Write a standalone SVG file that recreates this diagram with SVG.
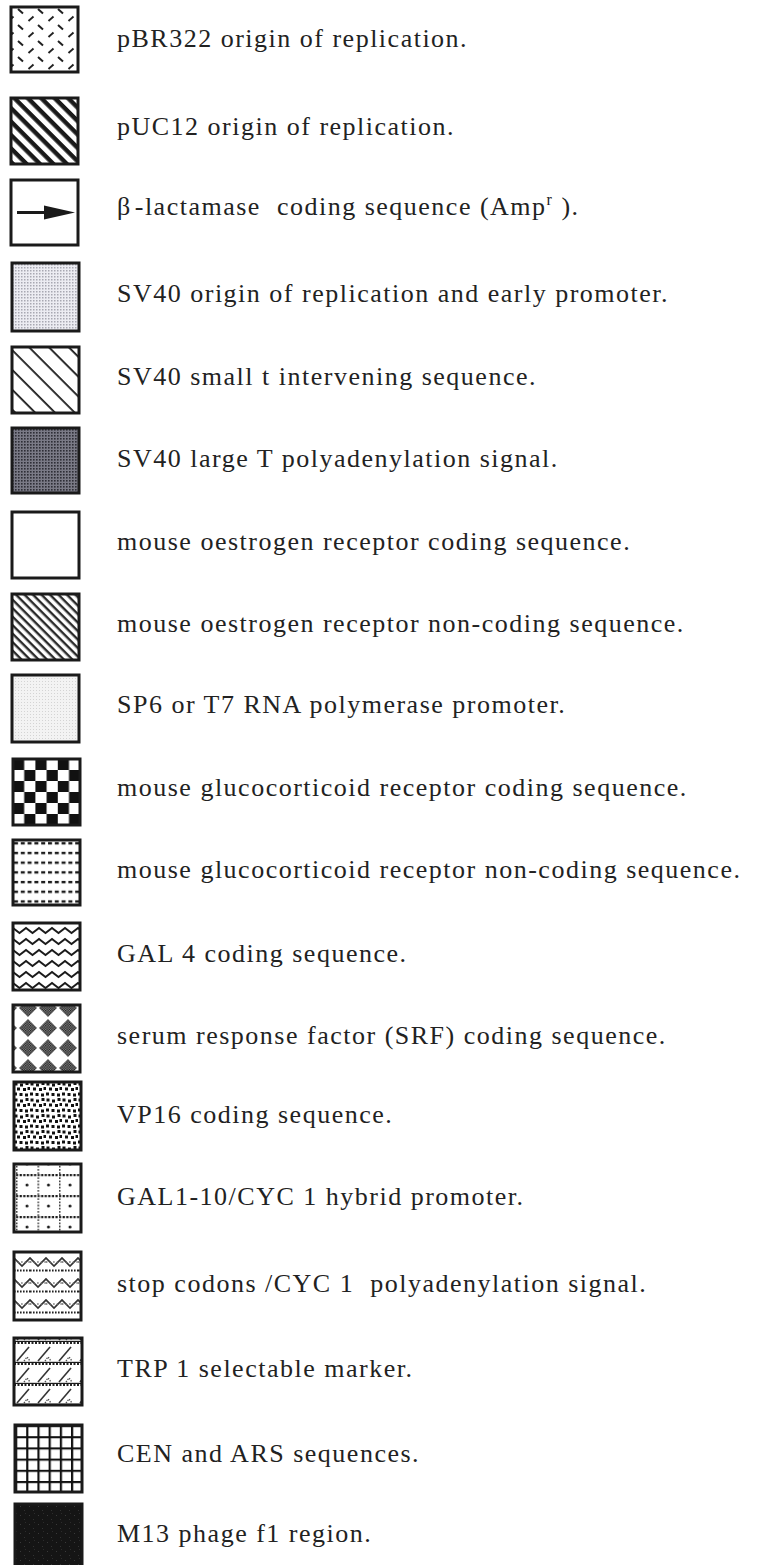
<svg xmlns="http://www.w3.org/2000/svg" width="764" height="1565" viewBox="0 0 764 1565">
  <style>
    .box { stroke: #1a1a1a; stroke-width: 3; }
    .lbl { font-family: "Liberation Serif", "Times New Roman", serif; font-size: 26px; letter-spacing: 1.5px; fill: #222; white-space: pre; }
  </style>
  <defs>
    <!-- alternating short dashes -->
    <pattern id="pDash" patternUnits="userSpaceOnUse" x="11" y="7" width="20" height="16">
      <rect width="20" height="16" fill="#fff"/>
      <path d="M7 2 L12 6.5 M-2.5 14 L2.5 9.5 M17.5 14 L22.5 9.5" stroke="#222" stroke-width="2" fill="none"/>
    </pattern>
    <!-- heavy diagonal stripes -->
    <pattern id="pHeavy" patternUnits="userSpaceOnUse" width="9.5" height="9.5" patternTransform="rotate(45)">
      <rect width="9.5" height="9.5" fill="#fff"/>
      <rect width="9.5" height="4.4" fill="#1a1a1a"/>
    </pattern>
    <!-- thin wide diagonal lines -->
    <pattern id="pThin" patternUnits="userSpaceOnUse" width="14" height="14" patternTransform="rotate(45)">
      <rect width="14" height="14" fill="#fff"/>
      <rect width="14" height="1.8" fill="#1a1a1a"/>
    </pattern>
    <!-- fine diagonal lines -->
    <pattern id="pFine" patternUnits="userSpaceOnUse" width="6" height="6" patternTransform="rotate(45)">
      <rect width="6" height="6" fill="#fff"/>
      <rect width="6" height="2.4" fill="#2a2a2a"/>
    </pattern>
    <!-- light dot screen -->
    <pattern id="pLight" patternUnits="userSpaceOnUse" width="3" height="3">
      <rect width="3" height="3" fill="#ececf2"/>
      <rect width="1.5" height="1.5" fill="#a8a8b2"/>
    </pattern>
    <!-- dark dot screen -->
    <pattern id="pDark" patternUnits="userSpaceOnUse" width="3" height="3">
      <rect width="3" height="3" fill="#7a7a86"/>
      <rect width="1.6" height="1.6" fill="#2e2e36"/>
    </pattern>
    <!-- very light stipple -->
    <pattern id="pPale" patternUnits="userSpaceOnUse" width="3" height="3">
      <rect width="3" height="3" fill="#f3f3f3"/>
      <rect width="1" height="1" fill="#d4d4d4"/>
    </pattern>
    <!-- checkerboard -->
    <pattern id="pCheck" patternUnits="userSpaceOnUse" x="13" y="759" width="22.4" height="22">
      <rect width="22.4" height="22" fill="#fff"/>
      <rect width="11.2" height="11" fill="#111"/>
      <rect x="11.2" y="11" width="11.2" height="11" fill="#111"/>
    </pattern>
    <!-- dashed rows -->
    <pattern id="pDashRows" patternUnits="userSpaceOnUse" x="13" y="848" width="6.8" height="9.7">
      <rect width="6.8" height="9.7" fill="#fff"/>
      <rect x="1" y="3.8" width="4" height="2.4" fill="#1a1a1a"/>
    </pattern>
    <!-- zigzag rows -->
    <pattern id="pZig" patternUnits="userSpaceOnUse" x="13" y="925" width="13" height="11">
      <rect width="13" height="11" fill="#fff"/>
      <path d="M-6.5 8 L0 3 L6.5 8 L13 3 L19.5 8" stroke="#1a1a1a" stroke-width="1.8" fill="none"/>
    </pattern>
    <!-- checkered fill for diamonds -->
    <pattern id="pDiamFill" patternUnits="userSpaceOnUse" width="2.4" height="2.4">
      <rect width="2.4" height="2.4" fill="#8a8a8a"/>
      <rect width="1.2" height="1.2" fill="#1a1a1a"/>
      <rect x="1.2" y="1.2" width="1.2" height="1.2" fill="#1a1a1a"/>
    </pattern>
    <!-- diamonds -->
    <pattern id="pDiam" patternUnits="userSpaceOnUse" x="18" y="998" width="20" height="20">
      <rect width="20" height="20" fill="#fff"/>
      <path d="M10 1 L19 10 L10 19 L1 10 Z" fill="url(#pDiamFill)"/>
    </pattern>
    <!-- scattered squares -->
    <pattern id="pSpeck" patternUnits="userSpaceOnUse" x="14" y="1082" width="16" height="16">
      <rect width="16" height="16" fill="#fff"/>
      <g fill="#111">
        <rect x="0.5" y="0.5" width="3" height="3"/>
        <rect x="6" y="1.5" width="3" height="3"/>
        <rect x="11.5" y="0" width="3" height="3"/>
        <rect x="3" y="5.5" width="3" height="3"/>
        <rect x="9" y="6" width="3" height="3"/>
        <rect x="13.5" y="5" width="2.5" height="3"/>
        <rect x="0" y="10.5" width="3" height="3"/>
        <rect x="5.5" y="11" width="3" height="3"/>
        <rect x="11" y="11.5" width="3" height="3"/>
      </g>
    </pattern>
    <!-- dotted grid -->
    <pattern id="pDotGrid" patternUnits="userSpaceOnUse" x="16" y="1174" width="21.5" height="21">
      <rect width="21.5" height="21" fill="#fff"/>
      <line x1="0" y1="1" x2="21.5" y2="1" stroke="#1a1a1a" stroke-width="2.4" stroke-dasharray="2.2 1.4"/>
      <line x1="0.5" y1="0" x2="0.5" y2="21" stroke="#444" stroke-width="2" stroke-dasharray="1.8 1.4"/>
      <circle cx="11" cy="11" r="1.5" fill="#1a1a1a"/>
    </pattern>
    <!-- zigzag with dotted rows -->
    <pattern id="pZigDot" patternUnits="userSpaceOnUse" x="14" y="1254" width="16" height="21">
      <rect width="16" height="21" fill="#fff"/>
      <path d="M-8 12 L0 4 L8 12 L16 4 L24 12" stroke="#333" stroke-width="1.6" fill="none"/>
      <line x1="0" y1="16.5" x2="16" y2="16.5" stroke="#222" stroke-width="1.8" stroke-dasharray="1.6 1.4"/>
      <line x1="0" y1="8" x2="16" y2="8" stroke="#666" stroke-width="1.4" stroke-dasharray="1.4 2.2"/>
    </pattern>
    <!-- bands with slashes -->
    <pattern id="pBand" patternUnits="userSpaceOnUse" x="14" y="1342" width="21" height="21">
      <rect width="21" height="21" fill="#fff"/>
      <line x1="0" y1="1" x2="21" y2="1" stroke="#222" stroke-width="1.8" stroke-dasharray="2 1.5"/>
      <path d="M3 19 L15 5" stroke="#333" stroke-width="1.6" fill="none"/>
      <path d="M10 19 L13 15 L16 19" stroke="#555" stroke-width="1.4" stroke-dasharray="1.4 1.2" fill="none"/>
      <line x1="0" y1="20.5" x2="21" y2="20.5" stroke="#1a1a1a" stroke-width="1.4"/>
    </pattern>
    <!-- square grid -->
    <pattern id="pGrid" patternUnits="userSpaceOnUse" x="15" y="1425" width="11.2" height="11.2">
      <rect width="11.2" height="11.2" fill="#fff"/>
      <path d="M0 0 H11.2 M0 0 V11.2" stroke="#111" stroke-width="4.4" fill="none"/>
    </pattern>
    <!-- near-black fill -->
    <pattern id="pBlack" patternUnits="userSpaceOnUse" width="9" height="9">
      <rect width="9" height="9" fill="#151515"/>
      <rect x="2" y="3" width="1" height="1" fill="#3a3a3a"/>
      <rect x="6" y="7" width="1" height="1" fill="#333"/>
      <rect x="7" y="1" width="1" height="1" fill="#2c2c2c"/>
    </pattern>
  </defs>

  <rect width="764" height="1565" fill="#fff"/>

  <g id="key-pbr322">
    <rect class="box" x="11" y="7" width="67" height="65" fill="url(#pDash)"/>
    <text class="lbl" x="117" y="47">pBR322 origin of replication.</text>
  </g>
  <g id="key-puc12">
    <rect class="box" x="11" y="98" width="67" height="66" fill="url(#pHeavy)"/>
    <text class="lbl" x="117" y="135">pUC12 origin of replication.</text>
  </g>
  <g id="key-amp">
    <rect class="box" x="11" y="180" width="67" height="65" fill="#fff"/>
    <line x1="17" y1="212.5" x2="50" y2="212.5" stroke="#1a1a1a" stroke-width="3"/>
    <path d="M44 205.5 L75 212.5 L44 219.5 Z" fill="#1a1a1a"/>
    <text class="lbl" x="117" y="215">β<tspan dx="3">-lactamase  coding sequence (Amp</tspan><tspan dy="-10" font-size="16">r</tspan><tspan dy="10"> ).</tspan></text>
  </g>
  <g id="key-sv40-ori">
    <rect class="box" x="12" y="263" width="67" height="68" fill="url(#pLight)"/>
    <text class="lbl" x="117" y="302">SV40 origin of replication and early promoter.</text>
  </g>
  <g id="key-sv40-small-t">
    <rect class="box" x="12" y="347" width="67" height="66" fill="url(#pThin)"/>
    <text class="lbl" x="117" y="385">SV40 small t intervening sequence.</text>
  </g>
  <g id="key-sv40-polya">
    <rect class="box" x="12" y="428" width="67" height="65" fill="url(#pDark)"/>
    <text class="lbl" x="117" y="467">SV40 large T polyadenylation signal.</text>
  </g>
  <g id="key-mer-coding">
    <rect class="box" x="12" y="512" width="67" height="66" fill="#fff"/>
    <text class="lbl" x="117" y="550">mouse oestrogen receptor coding sequence.</text>
  </g>
  <g id="key-mer-noncoding">
    <rect class="box" x="12" y="594" width="67" height="66" fill="url(#pFine)"/>
    <text class="lbl" x="117" y="632">mouse oestrogen receptor non-coding sequence.</text>
  </g>
  <g id="key-sp6-t7">
    <rect class="box" x="12" y="675" width="67" height="67" fill="url(#pPale)"/>
    <text class="lbl" x="117" y="713">SP6 or T7 RNA polymerase promoter.</text>
  </g>
  <g id="key-mgr-coding">
    <rect class="box" x="13" y="759" width="67" height="66" fill="url(#pCheck)"/>
    <text class="lbl" x="117" y="796">mouse glucocorticoid receptor coding sequence.</text>
  </g>
  <g id="key-mgr-noncoding">
    <rect class="box" x="13" y="840" width="67" height="65" fill="url(#pDashRows)"/>
    <text class="lbl" x="117" y="878">mouse glucocorticoid receptor non-coding sequence.</text>
  </g>
  <g id="key-gal4">
    <rect class="box" x="13" y="923" width="67" height="67" fill="url(#pZig)"/>
    <text class="lbl" x="117" y="962">GAL 4 coding sequence.</text>
  </g>
  <g id="key-srf">
    <rect class="box" x="13" y="1005" width="67" height="67" fill="url(#pDiam)"/>
    <text class="lbl" x="117" y="1044">serum response factor (SRF) coding sequence.</text>
  </g>
  <g id="key-vp16">
    <rect class="box" x="14" y="1082" width="67" height="68" fill="url(#pSpeck)"/>
    <text class="lbl" x="117" y="1123">VP16 coding sequence.</text>
  </g>
  <g id="key-gal1-10">
    <rect class="box" x="14" y="1164" width="67" height="68" fill="url(#pDotGrid)"/>
    <text class="lbl" x="117" y="1205">GAL1-10/CYC 1 hybrid promoter.</text>
  </g>
  <g id="key-cyc1-polya">
    <rect class="box" x="14" y="1252" width="67" height="68" fill="url(#pZigDot)"/>
    <text class="lbl" x="117" y="1292">stop codons /CYC 1  polyadenylation signal.</text>
  </g>
  <g id="key-trp1">
    <rect class="box" x="14" y="1338" width="68" height="67" fill="url(#pBand)"/>
    <text class="lbl" x="117" y="1377">TRP 1 selectable marker.</text>
  </g>
  <g id="key-cen-ars">
    <rect class="box" x="15" y="1425" width="67" height="67" fill="url(#pGrid)"/>
    <text class="lbl" x="117" y="1462">CEN and ARS sequences.</text>
  </g>
  <g id="key-m13">
    <rect class="box" x="15" y="1504" width="67" height="64" fill="url(#pBlack)"/>
    <text class="lbl" x="117" y="1542">M13 phage f1 region.</text>
  </g>
</svg>
